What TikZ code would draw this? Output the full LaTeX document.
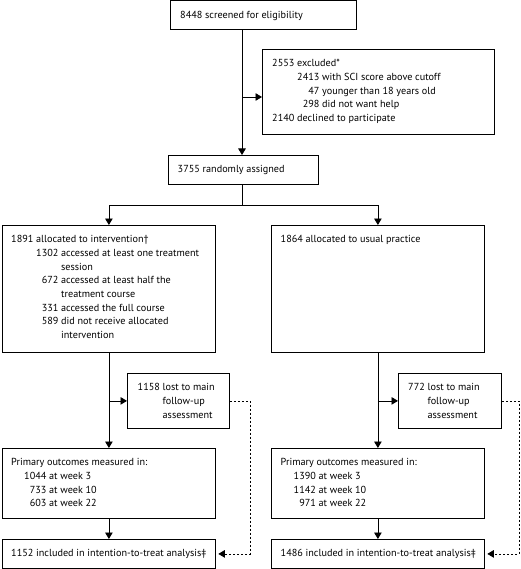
\documentclass[tikz,border=0pt]{standalone}
\usepackage{fontspec}
\setmainfont{PT Sans}
\usetikzlibrary{arrows.meta,calc}
\begin{document}
\begin{tikzpicture}[x=1pt,y=-1pt,
  box/.style n args={2}{draw=black, line width=0.8pt, inner sep=0pt, anchor=north west, minimum width=#1, minimum height=#2},
  txt/.style={anchor=north west, inner sep=0pt, align=left, font=\fontsize{10.2}{13.7}\selectfont, text=black},
  arr/.style={line width=0.8pt, -{Triangle[length=6.5pt,width=7.5pt]}},
  ln/.style={line width=0.8pt},
  dsh/.style={line width=0.8pt, dash pattern=on 2pt off 2pt, -{Triangle[length=6.5pt,width=7.5pt]}}
]
\useasboundingbox (0,0) rectangle (520,569);

% boxes
\node[box={186}{28.5}] (top) at (170,0.5) {};
\node[box={232}{85}] (excl) at (262,49) {};
\node[box={150}{29}] (rand) at (168,155) {};
\node[box={213}{127}] (allocL) at (2,225) {};
\node[box={213}{127}] (allocR) at (271,225) {};
\node[box={102}{55}] (lostL) at (127,373) {};
\node[box={103}{55}] (lostR) at (398,373) {};
\node[box={213}{70}] (outL) at (2,448) {};
\node[box={213}{70}] (outR) at (271,448) {};
\node[box={213}{29}] (ittL) at (2,539) {};
\node[box={213}{29}] (ittR) at (271,539) {};

% texts
\node[txt] (ttop) at ($(top.north west)+(10,8)$) {\begin{tabular}{@{}l@{}}8448 screened for eligibility\end{tabular}};
\node[txt] (texcl) at ($(excl.north west)+(10,8)$) {\begin{tabular}{@{\hspace{25pt}}r@{\ }l@{}}
\multicolumn{2}{@{}l@{}}{2553 excluded*}\\
2413 & with SCI score above cutoff\\
47 & younger than 18 years old\\
298 & did not want help\\
\multicolumn{2}{@{}l@{}}{2140 declined to participate}
\end{tabular}};
\node[txt] (trand) at ($(rand.north west)+(9.5,8)$) {\begin{tabular}{@{}l@{}}3755 randomly assigned\end{tabular}};
\node[txt] (tallocL) at ($(allocL.north west)+(9,8)$) {\begin{tabular}{@{\hspace{25pt}}r@{\ }l@{}}
\multicolumn{2}{@{}l@{}}{1891 allocated to intervention\textdagger}\\
1302 & accessed at least one treatment\\
 & session\\
672 & accessed at least half the\\
 & treatment course\\
331 & accessed the full course\\
589 & did not receive allocated\\
 & intervention
\end{tabular}};
\node[txt] (tallocR) at ($(allocR.north west)+(9.5,8)$) {\begin{tabular}{@{}l@{}}1864 allocated to usual practice\end{tabular}};
\node[txt] (tlostL) at ($(lostL.north west)+(10.5,8)$) {\begin{tabular}{@{}r@{\ }l@{}}
1158 & lost to main\\
 & follow-up\\
 & assessment
\end{tabular}};
\node[txt] (tlostR) at ($(lostR.north west)+(10,8)$) {\begin{tabular}{@{}r@{\ }l@{}}
772 & lost to main\\
 & follow-up\\
 & assessment
\end{tabular}};
\node[txt] (toutL) at ($(outL.north west)+(9,8)$) {\begin{tabular}{@{\hspace{13pt}}r@{\ }l@{}}
\multicolumn{2}{@{}l@{}}{Primary outcomes measured in:}\\
1044 & at week 3\\
733 & at week 10\\
603 & at week 22
\end{tabular}};
\node[txt] (toutR) at ($(outR.north west)+(9.5,8)$) {\begin{tabular}{@{\hspace{13pt}}r@{\ }l@{}}
\multicolumn{2}{@{}l@{}}{Primary outcomes measured in:}\\
1390 & at week 3\\
1142 & at week 10\\
971 & at week 22
\end{tabular}};
\node[txt] (tittL) at ($(ittL.north west)+(9,8)$) {\begin{tabular}{@{}l@{}}1152 included in intention-to-treat analysis\textdaggerdbl\end{tabular}};
\node[txt] (tittR) at ($(ittR.north west)+(9.5,8)$) {\begin{tabular}{@{}l@{}}1486 included in intention-to-treat analysis\textdaggerdbl\end{tabular}};

% helper coordinates
\coordinate (sp) at (242,0);
\coordinate (exclrow) at (0,97);
\coordinate (split) at (242,205);
\coordinate (dL) at (250,0);
\coordinate (dR) at (519,0);

% connectors
\draw[arr] (top.south -| sp) -- (rand.north -| sp);
\draw[arr] (sp |- exclrow) -- (excl.west |- exclrow);
\draw[ln] (rand.south -| sp) -- (split);
\draw[arr] (split) -| (allocL.north);
\draw[arr] (split) -| (allocR.north);

\draw[arr] (allocL.south) -- (outL.north);
\draw[arr] (allocL.south |- lostL.west) -- (lostL.west);
\draw[arr] (outL.south) -- (ittL.north);
\draw[dsh] (lostL.east) -| (dL |- ittL.east) -- ($(ittL.east)+(2.5,0)$);

\draw[arr] (allocR.south) -- (outR.north);
\draw[arr] (allocR.south |- lostR.west) -- (lostR.west);
\draw[arr] (outR.south) -- (ittR.north);
\draw[dsh] (lostR.east) -| (dR |- ittR.east) -- ($(ittR.east)+(2.5,0)$);
\end{tikzpicture}
\end{document}
